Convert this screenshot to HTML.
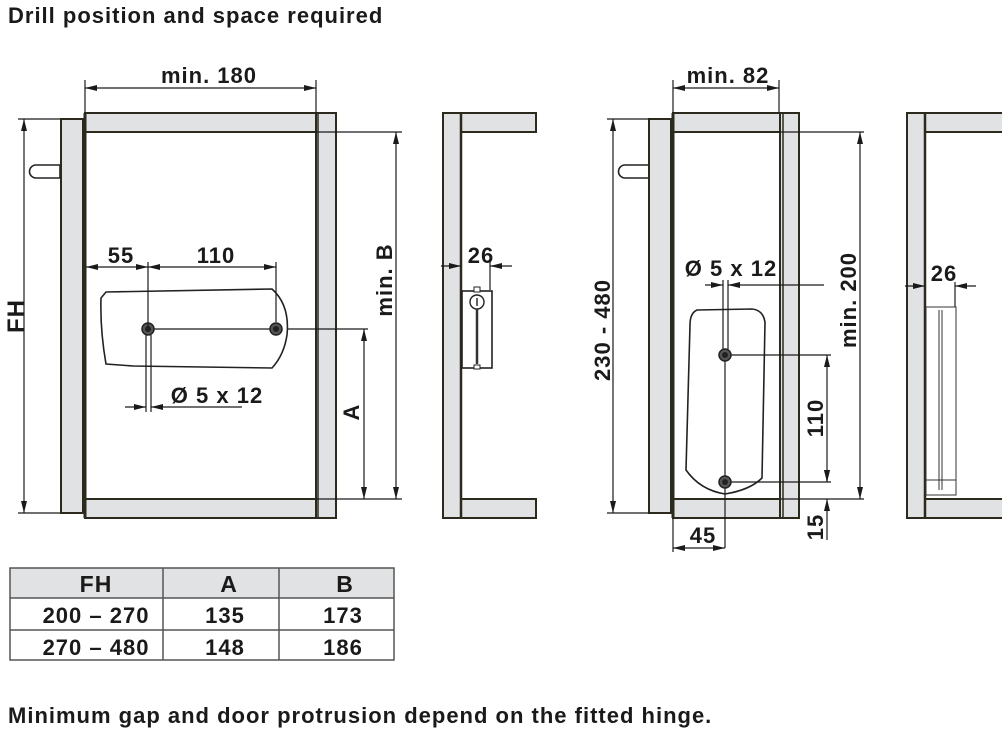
<!DOCTYPE html>
<html><head><meta charset="utf-8"><style>
html,body{margin:0;padding:0;background:#fff;width:1002px;height:730px;overflow:hidden}
svg{display:block}
text{font-family:"Liberation Sans",Arial,sans-serif;font-weight:bold;fill:#1a1a1a;letter-spacing:1px}
.p{fill:#e1e2e4;stroke:#2b2a1c;stroke-width:2}
.d{stroke:#1a1a1a;stroke-width:1.2;fill:none}
.h{fill:#fff;stroke:#222;stroke-width:1.6}
</style></head><body>
<svg width="1002" height="730" viewBox="0 0 1002 730" xmlns="http://www.w3.org/2000/svg">
<defs>
<marker id="a" viewBox="0 0 12 6" refX="12" refY="3" markerWidth="12" markerHeight="6" markerUnits="userSpaceOnUse" orient="auto-start-reverse"><path d="M0,0 L12,3 L0,6z" fill="#1a1a1a"/></marker>
</defs>
<text x="8" y="23" font-size="22">Drill position and space required</text>

<!-- LEFT VIEW -->
<path d="M36,165 h24 v13 h-24 a6.5,6.5 0 0 1 0,-13z" fill="#fff" stroke="#222" stroke-width="1.6"/>
<rect class="p" x="61" y="119" width="22" height="394"/>
<rect class="p" x="85" y="113" width="231" height="19"/>
<rect class="p" x="85" y="499" width="231" height="19"/>
<rect class="p" x="316" y="113" width="20" height="405"/>
<line x1="318" y1="113" x2="318" y2="518" stroke="#2b2a1c" stroke-width="1.5"/>
<line x1="85" y1="113" x2="85" y2="518" stroke="#2b2a1c" stroke-width="3"/>
<!-- FH -->
<line class="d" x1="18" y1="119" x2="60" y2="119"/><line class="d" x1="18" y1="513" x2="60" y2="513"/>
<line class="d" x1="24" y1="119" x2="24" y2="513" marker-start="url(#a)" marker-end="url(#a)"/>
<text transform="translate(24,316) rotate(-90)" font-size="24" text-anchor="middle">FH</text>
<!-- min 180 -->
<line class="d" x1="85" y1="80" x2="85" y2="113"/><line class="d" x1="316" y1="80" x2="316" y2="113"/>
<line class="d" x1="85" y1="88" x2="316" y2="88" marker-start="url(#a)" marker-end="url(#a)"/>
<text x="209" y="83" font-size="22" text-anchor="middle">min. 180</text>
<!-- min B -->
<line class="d" x1="316" y1="132" x2="402" y2="132"/><line class="d" x1="316" y1="499" x2="402" y2="499"/>
<line class="d" x1="396" y1="132" x2="396" y2="499" marker-start="url(#a)" marker-end="url(#a)"/>
<text transform="translate(392,280) rotate(-90)" font-size="22" text-anchor="middle">min. B</text>
<!-- A -->
<line class="d" x1="282" y1="329" x2="368" y2="329"/>
<line class="d" x1="364" y1="329" x2="364" y2="499" marker-start="url(#a)" marker-end="url(#a)"/>
<text transform="translate(359,412) rotate(-90)" font-size="22" text-anchor="middle">A</text>
<!-- hinge -->
<path d="M106,292 L272,289 Q290,305 287,335 Q284,355 272,368 L133,366 L106,364 Q100,330 101,298z" class="h"/>
<line class="d" x1="148" y1="329" x2="276" y2="329"/>
<circle cx="148" cy="329" r="6" fill="#555" stroke="#222" stroke-width="1.5"/><circle cx="148" cy="329" r="3" fill="#222"/>
<circle cx="276" cy="329" r="6" fill="#555" stroke="#222" stroke-width="1.5"/><circle cx="276" cy="329" r="3" fill="#222"/>
<line class="d" x1="148" y1="262" x2="148" y2="329"/><line class="d" x1="276" y1="262" x2="276" y2="322"/>
<line class="d" x1="86" y1="267" x2="148" y2="267" marker-start="url(#a)" marker-end="url(#a)"/>
<line class="d" x1="148" y1="267" x2="276" y2="267" marker-start="url(#a)" marker-end="url(#a)"/>
<text x="121" y="263" font-size="22" text-anchor="middle">55</text>
<text x="216" y="263" font-size="22" text-anchor="middle">110</text>
<line class="d" x1="146" y1="335" x2="146" y2="412"/><line class="d" x1="151" y1="335" x2="151" y2="412"/>
<line class="d" x1="125" y1="407" x2="146" y2="407" marker-end="url(#a)"/>
<line class="d" x1="242" y1="407" x2="151" y2="407" marker-end="url(#a)"/>
<text x="217" y="403" font-size="22" text-anchor="middle">Ø 5 x 12</text>

<!-- MIDDLE VIEW -->
<rect class="p" x="443" y="113" width="18" height="405"/>
<rect class="p" x="461" y="113" width="75" height="19" stroke="none"/>
<rect class="p" x="461" y="499" width="75" height="19" stroke="none"/>
<path d="M461,113 H536 M461,132 H536 M461,499 H536 M461,518 H536" stroke="#2b2a1c" stroke-width="2"/>
<line x1="461" y1="113" x2="461" y2="518" stroke="#2b2a1c" stroke-width="2.5"/>
<line class="d" x1="490" y1="262" x2="490" y2="290"/>
<line class="d" x1="441" y1="266" x2="461" y2="266" marker-end="url(#a)"/>
<line class="d" x1="512" y1="266" x2="490" y2="266" marker-end="url(#a)"/>
<text x="481" y="263" font-size="22" text-anchor="middle">26</text>
<rect x="462" y="291" width="30" height="77" class="h" stroke-width="1.4"/>
<circle cx="477" cy="302" r="7" fill="#fff" stroke="#222" stroke-width="1.4"/>
<line x1="477" y1="298" x2="477" y2="306" stroke="#222" stroke-width="1.4"/>
<line x1="477" y1="309" x2="477" y2="364" stroke="#333" stroke-width="2.5"/>
<rect x="474" y="287" width="6" height="5" fill="#fff" stroke="#222"/>
<rect x="474" y="365" width="6" height="4" fill="#fff" stroke="#222"/>

<!-- RIGHT VIEW 1 -->
<path d="M625,165 h24 v13 h-24 a6.5,6.5 0 0 1 0,-13z" fill="#fff" stroke="#222" stroke-width="1.6"/>
<rect class="p" x="649" y="119" width="22" height="394"/>
<rect class="p" x="673" y="113" width="107" height="19"/>
<rect class="p" x="673" y="499" width="107" height="19"/>
<rect class="p" x="780" y="113" width="19" height="405"/>
<line x1="783" y1="113" x2="783" y2="518" stroke="#2b2a1c" stroke-width="1.5"/>
<line x1="673" y1="113" x2="673" y2="518" stroke="#2b2a1c" stroke-width="3"/>
<!-- 230-480 -->
<line class="d" x1="607" y1="119" x2="649" y2="119"/><line class="d" x1="607" y1="513" x2="649" y2="513"/>
<line class="d" x1="613" y1="119" x2="613" y2="513" marker-start="url(#a)" marker-end="url(#a)"/>
<text transform="translate(610,330) rotate(-90)" font-size="22" text-anchor="middle">230 - 480</text>
<!-- min 82 -->
<line class="d" x1="673" y1="80" x2="673" y2="113"/><line class="d" x1="779" y1="80" x2="779" y2="113"/>
<line class="d" x1="673" y1="88" x2="779" y2="88" marker-start="url(#a)" marker-end="url(#a)"/>
<text x="728" y="83" font-size="22" text-anchor="middle">min. 82</text>
<!-- min 200 -->
<line class="d" x1="780" y1="132" x2="864" y2="132"/><line class="d" x1="780" y1="499" x2="864" y2="499"/>
<line class="d" x1="860" y1="132" x2="860" y2="499" marker-start="url(#a)" marker-end="url(#a)"/>
<text transform="translate(856,300) rotate(-90)" font-size="22" text-anchor="middle">min. 200</text>
<!-- hinge -->
<path d="M697,310 Q690,313 690,325 L686,470 Q700,490 725,494 Q750,490 762,478 L765,322 Q763,310 752,309z" class="h"/>
<line class="d" x1="725" y1="355" x2="831" y2="355"/>
<line class="d" x1="725" y1="482" x2="831" y2="482"/>
<line class="d" x1="725" y1="355" x2="725" y2="548"/>
<circle cx="725" cy="355" r="6" fill="#555" stroke="#222" stroke-width="1.5"/><circle cx="725" cy="355" r="3" fill="#222"/>
<circle cx="725" cy="482" r="6" fill="#555" stroke="#222" stroke-width="1.5"/><circle cx="725" cy="482" r="3" fill="#222"/>
<line class="d" x1="827" y1="355" x2="827" y2="482" marker-start="url(#a)" marker-end="url(#a)"/>
<text transform="translate(823,418) rotate(-90)" font-size="22" text-anchor="middle">110</text>
<!-- 15 -->
<line class="d" x1="827" y1="471" x2="827" y2="482" marker-end="url(#a)"/>
<line class="d" x1="827" y1="540" x2="827" y2="499" marker-end="url(#a)"/>
<text transform="translate(823,527) rotate(-90)" font-size="22" text-anchor="middle">15</text>
<!-- Ø -->
<line class="d" x1="723" y1="280" x2="723" y2="349"/><line class="d" x1="728" y1="280" x2="728" y2="349"/>
<line class="d" x1="705" y1="285" x2="723" y2="285" marker-end="url(#a)"/>
<line class="d" x1="824" y1="285" x2="728" y2="285" marker-end="url(#a)"/>
<text x="731" y="276" font-size="22" text-anchor="middle">Ø 5 x 12</text>
<!-- 45 -->
<line class="d" x1="673" y1="518" x2="673" y2="552"/>
<line class="d" x1="673" y1="548" x2="725" y2="548" marker-start="url(#a)" marker-end="url(#a)"/>
<text x="703" y="543" font-size="22" text-anchor="middle">45</text>

<!-- RIGHT VIEW 2 -->
<rect class="p" x="907" y="113" width="18" height="405"/>
<rect class="p" x="925" y="113" width="80" height="19" stroke="none"/>
<rect class="p" x="925" y="499" width="80" height="19" stroke="none"/>
<path d="M925,113 H1002 M925,132 H1002 M925,499 H1002 M925,518 H1002" stroke="#2b2a1c" stroke-width="2"/>
<line x1="925" y1="113" x2="925" y2="518" stroke="#2b2a1c" stroke-width="2.5"/>
<line class="d" x1="955" y1="282" x2="955" y2="308"/>
<line class="d" x1="905" y1="286" x2="925" y2="286" marker-end="url(#a)"/>
<line class="d" x1="976" y1="286" x2="955" y2="286" marker-end="url(#a)"/>
<text x="944" y="281" font-size="22" text-anchor="middle">26</text>
<rect x="926" y="307" width="30" height="188" fill="#fff" stroke="#333" stroke-width="1"/>
<line x1="939" y1="310" x2="939" y2="490" stroke="#333" stroke-width="1"/>
<line x1="942" y1="310" x2="942" y2="490" stroke="#333" stroke-width="1"/>
<line x1="926" y1="480" x2="956" y2="480" stroke="#333" stroke-width="1"/>

<!-- TABLE -->
<rect x="10" y="568" width="384" height="30" fill="#e1e2e4"/>
<g stroke="#555" stroke-width="1.5" fill="none">
<rect x="10" y="568" width="384" height="92"/>
<line x1="10" y1="598" x2="394" y2="598"/><line x1="10" y1="630" x2="394" y2="630"/>
<line x1="163" y1="568" x2="163" y2="660"/><line x1="279" y1="568" x2="279" y2="660"/>
</g>
<g font-size="22" text-anchor="middle">
<text x="96" y="592" font-size="23">FH</text><text x="229" y="592" font-size="23">A</text><text x="345" y="592" font-size="23">B</text>
<text x="96" y="623">200 – 270</text><text x="225" y="623">135</text><text x="343" y="623">173</text>
<text x="96" y="655">270 – 480</text><text x="225" y="655">148</text><text x="343" y="655">186</text>
</g>
<text x="8" y="723" font-size="22">Minimum gap and door protrusion depend on the fitted hinge.</text>
</svg>
</body></html>
